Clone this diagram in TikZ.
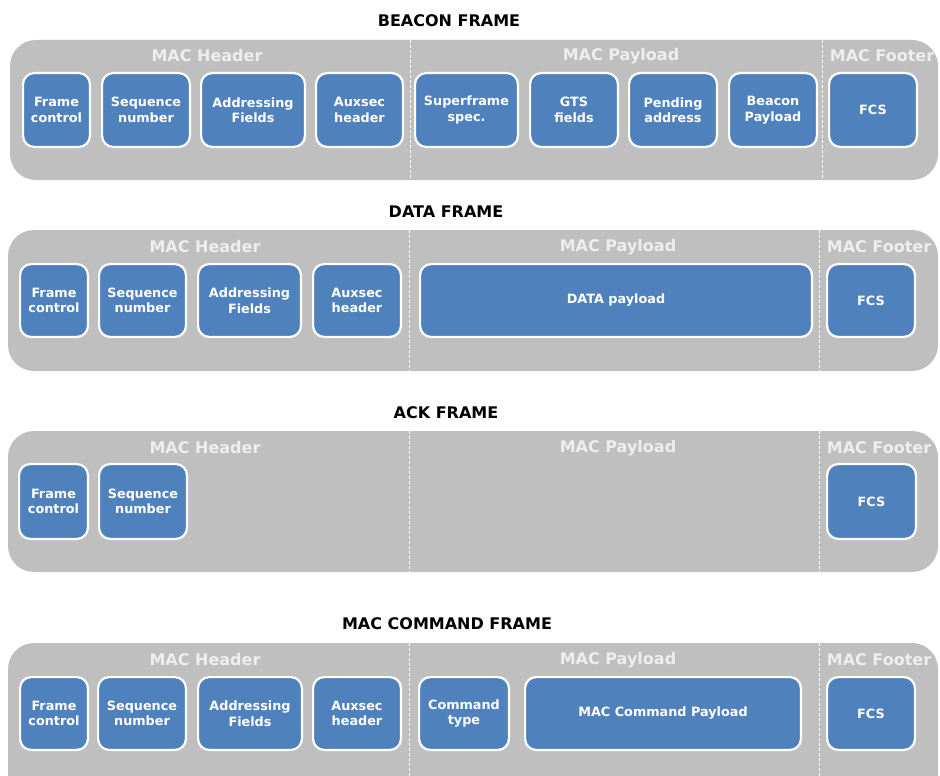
\documentclass[tikz,border=0pt]{standalone}
\usepackage{fontspec}
\setmainfont{DejaVu Sans}
\definecolor{panelgray}{HTML}{BFBFBF}
\definecolor{fieldblue}{HTML}{4F81BD}
\definecolor{labelwhite}{HTML}{EEEEEE}
\tikzset{
  panel/.style={fill=panelgray, draw=none, rounded corners=26pt},
  field/.style={draw=white, line width=2.2pt, fill=fieldblue, rounded corners=11pt,
    text=white, align=center, inner sep=0pt,
    font=\fontsize{12.8}{15.5}\selectfont\bfseries},
  seclabel/.style={text=labelwhite, inner sep=0pt, font=\fontsize{16}{18}\selectfont\bfseries},
  title/.style={text=black, inner sep=0pt, font=\fontsize{16}{18}\selectfont\bfseries},
  divider/.style={draw=white, line width=0.8pt, dash pattern=on 3pt off 2pt}
}
% #1 name, #2 x1, #3 x2, #4 y1, #5 y2, #6 text
\newcommand\fld[6]{%
  \node[field, minimum width={#3-#2-2.2}, minimum height={#5-#4-2.2}]
    (#1) at ({(#2+#3)/2},{(#4+#5)/2}) {#6};}
\begin{document}
\begin{tikzpicture}[x=1pt, y=-1pt]
\useasboundingbox (0,0) rectangle (940,776);
\clip (0,0) rectangle (940,776);

% ---------- BEACON FRAME ----------
\node[title] (tB) at (449,21) {BEACON FRAME};
\fill[panel] (10,40) rectangle (938,180);
\coordinate (bd1t) at (410,40); \coordinate (bd1b) at (410,180);
\coordinate (bd2t) at (822,40); \coordinate (bd2b) at (822,180);
\draw[divider] (bd1t) -- (bd1b);
\draw[divider] (bd2t) -- (bd2b);
\node[seclabel] (bH) at (207,56) {MAC Header};
\node[seclabel] (bP) at (621,56) {MAC Payload};
\node[seclabel] (bF) at (882,56) {MAC Footer};
\fld{bfc}{22}{91}{72}{148}{Frame\\control}
\fld{bsn}{101}{191}{72}{148}{Sequence\\number}
\fld{baf}{200}{306}{72}{148}{Addressing\\Fields}
\fld{bah}{315}{404}{72}{148}{Auxsec\\header}
\fld{bss}{414}{519}{72}{148}{Superframe\\spec.}
\fld{bgt}{529}{619}{72}{148}{GTS\\fields}
\fld{bpa}{628}{718}{72}{148}{Pending\\address}
\fld{bbp}{728}{818}{72}{148}{Beacon\\Payload}
\fld{bfcs}{828}{918}{72}{148}{FCS}

% ---------- DATA FRAME ----------
\node[title] (tD) at (446,212) {DATA FRAME};
\fill[panel] (8,230) rectangle (938,371);
\coordinate (dd1t) at (409,230); \coordinate (dd1b) at (409,371);
\coordinate (dd2t) at (819,230); \coordinate (dd2b) at (819,371);
\draw[divider] (dd1t) -- (dd1b);
\draw[divider] (dd2t) -- (dd2b);
\node[seclabel] (dH) at (205,247) {MAC Header};
\node[seclabel] (dP) at (618,247) {MAC Payload};
\node[seclabel] (dF) at (879,247) {MAC Footer};
\fld{dfc}{19}{89}{263}{338}{Frame\\control}
\fld{dsn}{98}{187}{263}{338}{Sequence\\number}
\fld{daf}{197}{302}{263}{338}{Addressing\\Fields}
\fld{dah}{312}{402}{263}{338}{Auxsec\\header}
\fld{ddp}{419}{813}{263}{338}{DATA payload}
\fld{dfcs}{826}{916}{263}{338}{FCS}

% ---------- ACK FRAME ----------
\node[title] (tA) at (446,413) {ACK FRAME};
\fill[panel] (8,431) rectangle (938,572);
\coordinate (ad1t) at (409,431); \coordinate (ad1b) at (409,572);
\coordinate (ad2t) at (819,431); \coordinate (ad2b) at (819,572);
\draw[divider] (ad1t) -- (ad1b);
\draw[divider] (ad2t) -- (ad2b);
\node[seclabel] (aH) at (205,448) {MAC Header};
\node[seclabel] (aP) at (618,448) {MAC Payload};
\node[seclabel] (aF) at (879,448) {MAC Footer};
\fld{afc}{18}{89}{463}{540}{Frame\\control}
\fld{asn}{98}{188}{463}{540}{Sequence\\number}
\fld{afcs}{826}{917}{463}{540}{FCS}

% ---------- MAC COMMAND FRAME ----------
\node[title] (tC) at (447,624) {MAC COMMAND FRAME};
\fill[panel] (8,643) rectangle (938,800);
\coordinate (cd1t) at (409,643); \coordinate (cd1b) at (409,776);
\coordinate (cd2t) at (819,643); \coordinate (cd2b) at (819,776);
\draw[divider] (cd1t) -- (cd1b);
\draw[divider] (cd2t) -- (cd2b);
\node[seclabel] (cH) at (205,660) {MAC Header};
\node[seclabel] (cP) at (618,660) {MAC Payload};
\node[seclabel] (cF) at (879,660) {MAC Footer};
\fld{cfc}{19}{89}{676}{751}{Frame\\control}
\fld{csn}{97}{187}{676}{751}{Sequence\\number}
\fld{caf}{197}{303}{676}{751}{Addressing\\Fields}
\fld{cah}{312}{402}{676}{751}{Auxsec\\header}
\fld{cct}{418}{510}{676}{751}{Command\\type}
\fld{cmp}{524}{802}{676}{751}{MAC Command Payload}
\fld{cfcs}{826}{916}{676}{751}{FCS}
\end{tikzpicture}
\end{document}
